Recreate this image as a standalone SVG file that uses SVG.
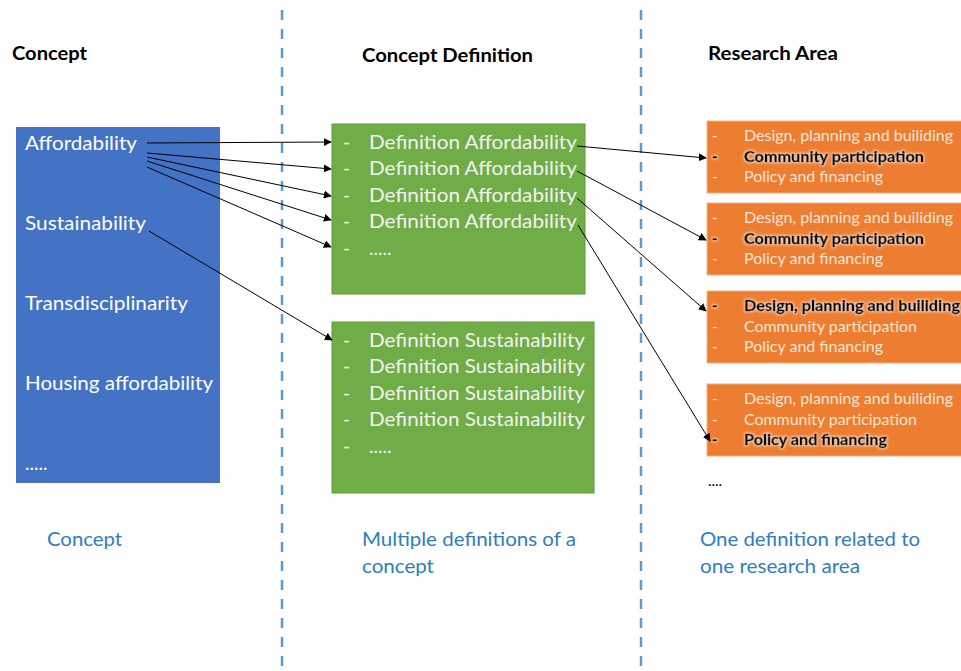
<svg xmlns="http://www.w3.org/2000/svg" width="961" height="671" viewBox="0 0 961 671">
  <style>
    text { font-family: Lato, "Open Sans", "Liberation Sans", sans-serif; }
    .head { font-size: 18px; font-weight: bold; fill: #000; }
    .concept { font-size: 19px; fill: #fff; }
    .def { font-size: 19px; fill: #f2f2f2; }
    .area { font-size: 15px; fill: #fbe5d6; }
    .areaB { font-size: 15px; font-weight: bold; fill: #000; stroke: #000; stroke-width: 0.45; filter: url(#glow); }
    .note { font-size: 19px; fill: #2e7dc1; }
    .divider { stroke: #5b9bd5; stroke-width: 2.5; stroke-dasharray: 10 9; fill: none; }
    .blue { fill: #4472c4; }
    .green { fill: #70ad47; stroke: #5e9a3a; stroke-width: 1; }
    .orange { fill: #ed7d31; stroke: #f4b183; stroke-width: 1; }
    .link { stroke: #000; stroke-width: 1; fill: none; marker-end: url(#arrow); }
  </style>
  <defs>
    <marker id="arrow" viewBox="0 0 10 10" refX="9" refY="5" markerWidth="8" markerHeight="8" markerUnits="userSpaceOnUse" orient="auto">
      <path d="M0,0 L10,5 L0,10 z" fill="#000"/>
    </marker>
    <filter id="glow" x="-10%" y="-40%" width="120%" height="180%">
      <feMorphology in="SourceAlpha" operator="dilate" radius="0.8" result="d"/>
      <feGaussianBlur in="d" stdDeviation="0.8" result="b"/>
      <feFlood flood-color="#fbe5d6" flood-opacity="0.7"/>
      <feComposite in2="b" operator="in" result="g"/>
      <feMerge><feMergeNode in="g"/><feMergeNode in="SourceGraphic"/></feMerge>
    </filter>
  </defs>

  <rect width="961" height="671" fill="#fff"/>

  <!-- column dividers -->
  <line class="divider" x1="282" y1="10" x2="282" y2="671"/>
  <line class="divider" x1="641" y1="10" x2="641" y2="671"/>

  <!-- column headings -->
  <text class="head" x="12" y="60" textLength="75" lengthAdjust="spacingAndGlyphs">Concept</text>
  <text class="head" x="362" y="62" textLength="171" lengthAdjust="spacingAndGlyphs">Concept Definition</text>
  <text class="head" x="708" y="60" textLength="130" lengthAdjust="spacingAndGlyphs">Research Area</text>

  <!-- concepts -->
  <g id="concepts">
    <rect class="blue" x="16" y="127" width="204" height="356"/>
    <text class="concept" x="25" y="150" textLength="112" lengthAdjust="spacingAndGlyphs">Affordability</text>
    <text class="concept" x="25" y="230" textLength="121" lengthAdjust="spacingAndGlyphs">Sustainability</text>
    <text class="concept" x="25" y="310" textLength="163" lengthAdjust="spacingAndGlyphs">Transdisciplinarity</text>
    <text class="concept" x="25" y="390" textLength="188" lengthAdjust="spacingAndGlyphs">Housing affordability</text>
    <text class="concept" x="25" y="470">.....</text>
  </g>

  <!-- definitions of affordability -->
  <g id="def-affordability">
    <rect class="green" x="332" y="124" width="253" height="170"/>
    <text class="def" x="343" y="149">-</text>
    <text class="def" x="369" y="149" textLength="208" lengthAdjust="spacingAndGlyphs">Definition Affordability</text>
    <text class="def" x="343" y="175">-</text>
    <text class="def" x="369" y="175" textLength="208" lengthAdjust="spacingAndGlyphs">Definition Affordability</text>
    <text class="def" x="343" y="202">-</text>
    <text class="def" x="369" y="202" textLength="208" lengthAdjust="spacingAndGlyphs">Definition Affordability</text>
    <text class="def" x="343" y="228">-</text>
    <text class="def" x="369" y="228" textLength="208" lengthAdjust="spacingAndGlyphs">Definition Affordability</text>
    <text class="def" x="343" y="255">-</text>
    <text class="def" x="369" y="255">.....</text>
  </g>

  <!-- definitions of sustainability -->
  <g id="def-sustainability">
    <rect class="green" x="332" y="322" width="262" height="171"/>
    <text class="def" x="343" y="347">-</text>
    <text class="def" x="369" y="347" textLength="216" lengthAdjust="spacingAndGlyphs">Definition Sustainability</text>
    <text class="def" x="343" y="373">-</text>
    <text class="def" x="369" y="373" textLength="216" lengthAdjust="spacingAndGlyphs">Definition Sustainability</text>
    <text class="def" x="343" y="400">-</text>
    <text class="def" x="369" y="400" textLength="216" lengthAdjust="spacingAndGlyphs">Definition Sustainability</text>
    <text class="def" x="343" y="426">-</text>
    <text class="def" x="369" y="426" textLength="216" lengthAdjust="spacingAndGlyphs">Definition Sustainability</text>
    <text class="def" x="343" y="453">-</text>
    <text class="def" x="369" y="453">.....</text>
  </g>

  <!-- research areas -->
  <g id="area-1">
    <rect class="orange" x="707" y="121" width="260" height="72"/>
    <text class="area" x="712" y="141">-</text>
    <text class="area" x="744" y="141" textLength="209" lengthAdjust="spacingAndGlyphs">Design, planning and builiding</text>
    <text class="areaB" x="712" y="162">-</text>
    <text class="areaB" x="744" y="162" textLength="180" lengthAdjust="spacingAndGlyphs">Community participation</text>
    <text class="area" x="712" y="182">-</text>
    <text class="area" x="744" y="182" textLength="139" lengthAdjust="spacingAndGlyphs">Policy and financing</text>
  </g>
  <g id="area-2">
    <rect class="orange" x="707" y="203" width="260" height="72"/>
    <text class="area" x="712" y="223">-</text>
    <text class="area" x="744" y="223" textLength="209" lengthAdjust="spacingAndGlyphs">Design, planning and builiding</text>
    <text class="areaB" x="712" y="244">-</text>
    <text class="areaB" x="744" y="244" textLength="180" lengthAdjust="spacingAndGlyphs">Community participation</text>
    <text class="area" x="712" y="264">-</text>
    <text class="area" x="744" y="264" textLength="139" lengthAdjust="spacingAndGlyphs">Policy and financing</text>
  </g>
  <g id="area-3">
    <rect class="orange" x="707" y="291" width="260" height="72"/>
    <text class="areaB" x="712" y="311">-</text>
    <text class="areaB" x="744" y="311" textLength="216" lengthAdjust="spacingAndGlyphs">Design, planning and builiding</text>
    <text class="area" x="712" y="332">-</text>
    <text class="area" x="744" y="332" textLength="173" lengthAdjust="spacingAndGlyphs">Community participation</text>
    <text class="area" x="712" y="352">-</text>
    <text class="area" x="744" y="352" textLength="139" lengthAdjust="spacingAndGlyphs">Policy and financing</text>
  </g>
  <g id="area-4">
    <rect class="orange" x="707" y="384" width="260" height="72"/>
    <text class="area" x="712" y="404">-</text>
    <text class="area" x="744" y="404" textLength="209" lengthAdjust="spacingAndGlyphs">Design, planning and builiding</text>
    <text class="area" x="712" y="425">-</text>
    <text class="area" x="744" y="425" textLength="173" lengthAdjust="spacingAndGlyphs">Community participation</text>
    <text class="areaB" x="712" y="445">-</text>
    <text class="areaB" x="744" y="445" textLength="143" lengthAdjust="spacingAndGlyphs">Policy and financing</text>
  </g>
  <text x="708" y="486" style="font-size:15px;fill:#000">....</text>

  <!-- connectors -->
  <g id="connectors">
    <line class="link" x1="147" y1="143" x2="331" y2="142"/>
    <line class="link" x1="147" y1="153" x2="331" y2="169"/>
    <line class="link" x1="147" y1="157" x2="331" y2="196"/>
    <line class="link" x1="147" y1="161" x2="331" y2="220"/>
    <line class="link" x1="147" y1="167" x2="331" y2="247"/>
    <line class="link" x1="149" y1="231" x2="332" y2="340"/>
    <line class="link" x1="577" y1="146" x2="706" y2="158"/>
    <line class="link" x1="577" y1="171" x2="706" y2="240"/>
    <line class="link" x1="577" y1="198" x2="706" y2="311"/>
    <line class="link" x1="578" y1="225" x2="710" y2="441"/>
  </g>

  <!-- column captions -->
  <text class="note" x="47" y="546" textLength="75" lengthAdjust="spacingAndGlyphs">Concept</text>
  <text class="note" x="362" y="546" textLength="214" lengthAdjust="spacingAndGlyphs">Multiple definitions of a</text>
  <text class="note" x="362" y="573" textLength="72" lengthAdjust="spacingAndGlyphs">concept</text>
  <text class="note" x="700" y="546" textLength="220" lengthAdjust="spacingAndGlyphs">One definition related to</text>
  <text class="note" x="700" y="573" textLength="160" lengthAdjust="spacingAndGlyphs">one research area</text>
</svg>
